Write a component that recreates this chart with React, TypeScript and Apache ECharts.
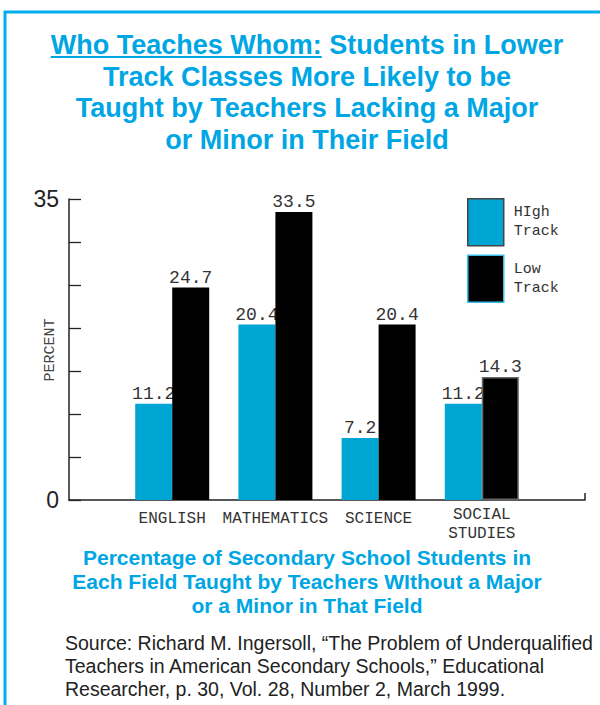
import React, { useEffect, useRef } from "react";
import * as echarts from "echarts";

// Subjects along the x axis (empty slots pad both ends of the axis)
const categories = ["ENGLISH", "MATHEMATICS", "SCIENCE", "SOCIAL\nSTUDIES"];
// Percent of students taught by out-of-field teachers
const highTrack = [11.2, 20.4, 7.2, 11.2];
const lowTrack = [24.7, 33.5, 20.4, 14.3];
const seriesNames = ["HIgh Track", "Low Track"];
const yLabelValues = [0, 35];

const titleLines = [
  "Who Teaches Whom: Students in Lower",
  "Track Classes More Likely to be",
  "Taught by Teachers Lacking a Major",
  "or Minor in Their Field",
];
const underlined = "Who Teaches Whom:";
const subtitleLines = [
  "Percentage of Secondary School Students in",
  "Each Field Taught by Teachers WIthout a Major",
  "or a Minor in That Field",
];
const sourceLines = [
  "Source: Richard M. Ingersoll, \u201cThe Problem of Underqualified",
  "Teachers in American Secondary Schools,\u201d Educational",
  "Researcher, p. 30, Vol. 28, Number 2, March 1999.",
];

const BLUE_TEXT = "#00a6e4";
const FRAME = "#00aeef";
const BAR_BLUE = "#00a6d3";
const MONO = "'Courier New', Courier, 'Liberation Mono', monospace";
const SANS = "'Liberation Sans', Arial, Helvetica, sans-serif";

function textWidth(text: string, font: string): number {
  const ctx = document.createElement("canvas").getContext("2d");
  if (!ctx) return text.length * 14;
  ctx.font = font;
  return ctx.measureText(text).width;
}

export default function App() {
  const ref = useRef<HTMLDivElement>(null);

  useEffect(() => {
    if (!ref.current) return;
    const chart = echarts.init(ref.current, undefined, { renderer: "svg" });

    const titleSize = 27;
    const titleFont = `bold ${titleSize}px ${SANS}`;
    const cx = 307;
    const titleY = [45, 77, 108, 140];
    const line1W = textWidth(titleLines[0], titleFont);
    const leadW = textWidth(underlined, titleFont);
    const ulStart = cx - line1W / 2;

    const graphic: any[] = [
      {
        type: "polyline",
        shape: { points: [[5, 705], [5, 12], [600, 12]] },
        style: { stroke: FRAME, lineWidth: 3, fill: "none" },
      },
      ...titleLines.map((t, i) => ({
        type: "text",
        x: cx,
        y: titleY[i],
        style: {
          text: t,
          font: titleFont,
          fill: BLUE_TEXT,
          align: "center",
          verticalAlign: "middle",
        },
      })),
      {
        type: "line",
        shape: { x1: ulStart, y1: titleY[0] + 12, x2: ulStart + leadW, y2: titleY[0] + 12 },
        style: { stroke: BLUE_TEXT, lineWidth: 2 },
      },
      {
        type: "text",
        x: 50,
        y: 350,
        rotation: Math.PI / 2,
        style: {
          text: "PERCENT",
          fontFamily: MONO,
          fontSize: 15,
          fill: "#444",
          align: "center",
          verticalAlign: "middle",
        },
      },
      ...subtitleLines.map((t, i) => ({
        type: "text",
        x: cx,
        y: 557 + i * 24,
        style: {
          text: t,
          font: `bold 21px ${SANS}`,
          fill: BLUE_TEXT,
          align: "center",
          verticalAlign: "middle",
        },
      })),
      ...sourceLines.map((t, i) => ({
        type: "text",
        x: 65,
        y: 643 + i * 23,
        style: {
          text: t,
          font: `19.5px ${SANS}`,
          fill: "#222",
          align: "left",
          verticalAlign: "middle",
        },
      })),
    ];

    const axisColor = "#222";
    const xData = [
      "",
      ...categories.map((c) => ({
        value: c,
        textStyle: { lineHeight: c.includes("\n") ? 19 : 27 },
      })),
      "",
    ];

    const barLabel = {
      show: true,
      position: "top",
      distance: 1,
      fontFamily: MONO,
      fontSize: 18,
      color: "#333",
    };

    chart.setOption({
      animation: false,
      grid: { left: 69, top: 199, width: 516, height: 301, containLabel: false },
      legend: {
        orient: "vertical",
        left: 467,
        top: 198,
        padding: 0,
        itemWidth: 36,
        itemHeight: 47,
        itemGap: 8,
        icon: "rect",
        selectedMode: false,
        formatter: (name: string) => name.replace(" ", "\n"),
        textStyle: {
          fontFamily: MONO,
          fontSize: 15,
          color: "#333",
          lineHeight: 19,
          padding: [0, 0, 0, 5],
        },
        data: [
          { name: seriesNames[0], itemStyle: { borderColor: "#444", borderWidth: 1.5 } },
          { name: seriesNames[1], itemStyle: { borderColor: "#3bbbe8", borderWidth: 1.5 } },
        ],
      },
      xAxis: {
        type: "category",
        data: xData,
        boundaryGap: false,
        axisLine: { lineStyle: { color: axisColor, width: 1.5 } },
        axisTick: {
          show: true,
          inside: true,
          length: 7,
          interval: (i: number) => i === categories.length + 1,
          lineStyle: { color: axisColor, width: 1.5 },
        },
        axisLabel: {
          interval: 0,
          fontFamily: MONO,
          fontSize: 16,
          color: "#333",
          margin: 5,
          verticalAlign: "top",
          lineHeight: 19,
        },
        splitLine: { show: false },
      },
      yAxis: {
        type: "value",
        min: 0,
        max: 35,
        interval: 5,
        axisLine: { show: true, lineStyle: { color: axisColor, width: 1.5 } },
        axisTick: { show: true, inside: true, length: 12, lineStyle: { color: axisColor, width: 1.3 } },
        splitLine: { show: false },
        axisLabel: {
          formatter: (v: number) => (yLabelValues.includes(v) ? String(v) : ""),
          fontFamily: SANS,
          fontSize: 23,
          color: "#222",
          margin: 10,
        },
      },
      series: [
        {
          type: "bar",
          name: seriesNames[0],
          data: [null, ...highTrack, null],
          barWidth: 37,
          barGap: "0%",
          z: 2,
          itemStyle: { color: BAR_BLUE },
          label: barLabel,
        },
        {
          type: "bar",
          name: seriesNames[1],
          data: [
            null,
            ...lowTrack.map((v, i) =>
              i === lowTrack.length - 1
                ? { value: v, itemStyle: { borderColor: "#666", borderWidth: 1.5 } }
                : v
            ),
            null,
          ],
          barWidth: 37,
          z: 3,
          itemStyle: { color: "#000" },
          label: barLabel,
        },
      ],
      graphic,
    });

    return () => chart.dispose();
  }, []);

  return (
    <div
      ref={ref}
      style={{ position: "absolute", left: 0, top: 0, width: 600, height: 705, background: "#fff" }}
    />
  );
}
